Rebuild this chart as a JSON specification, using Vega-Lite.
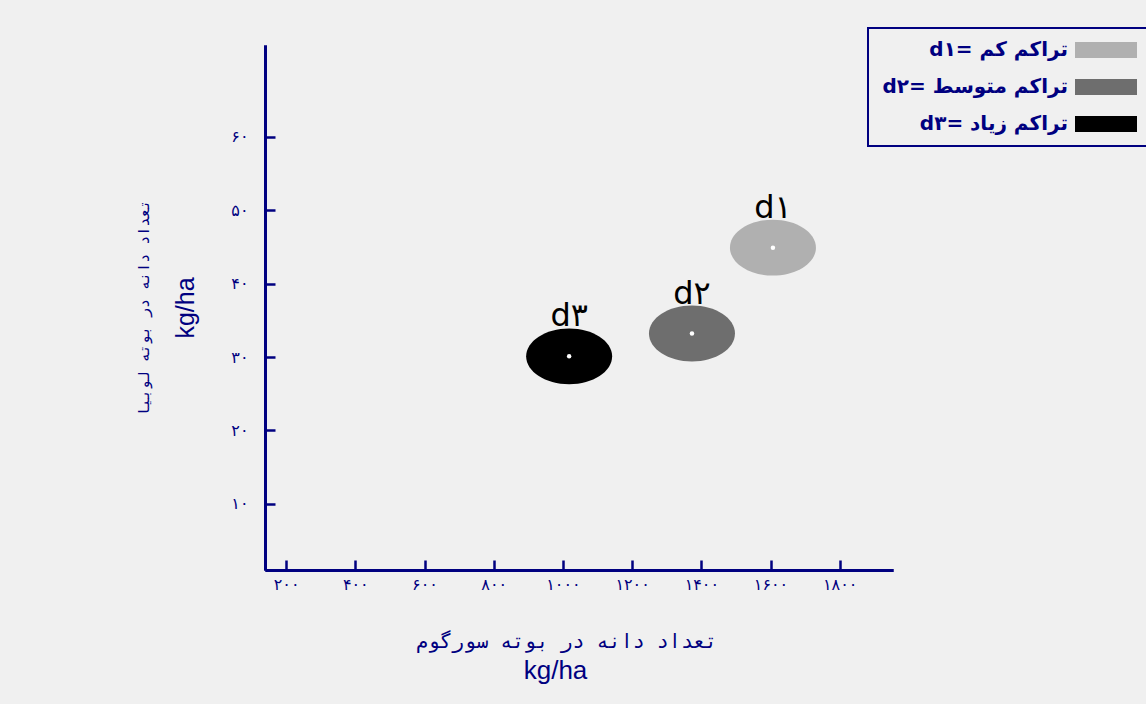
{
  "$schema": "https://vega.github.io/schema/vega-lite/v6.json",
  "autosize": {"type": "none"},
  "padding": {"left": 265, "top": 45, "right": 253, "bottom": 134},
  "width": 628,
  "height": 525,
  "background": "#f0f0f0",
  "config": {"view": {"stroke": null}},
  "data": {"values": [
    {"name": "d۱", "label": "d۱=‎ تراکم کم", "x": 1607, "y": 44.9},
    {"name": "d۲", "label": "d۲=‎ تراکم متوسط", "x": 1373, "y": 33.2},
    {"name": "d۳", "label": "d۳=‎ تراکم زیاد", "x": 1018, "y": 30.1}
  ]},
  "resolve": {"axis": {"x": "independent", "y": "independent"}},
  "layer": [
    {
      "mark": {"type": "point", "filled": true, "opacity": 1, "size": 7396, "shape": "M -1 0 A 1 0.65 0 1 0 1 0 A 1 0.65 0 1 0 -1 0 Z"},
      "encoding": {
        "x": {"field": "x", "type": "quantitative", "scale": {"domain": [139, 1954], "nice": false, "zero": false},
          "axis": {"orient": "bottom", "values": [200, 400, 600, 800, 1000, 1200, 1400, 1600, 1800],
            "labelExpr": "replace(replace(replace(replace(replace(replace(replace(replace(replace(replace(datum.value+'',regexp('0','g'),'۰'),regexp('1','g'),'۱'),regexp('2','g'),'۲'),regexp('3','g'),'۳'),regexp('4','g'),'۴'),regexp('5','g'),'۵'),regexp('6','g'),'۶'),regexp('7','g'),'۷'),regexp('8','g'),'۸'),regexp('9','g'),'۹')",
            "grid": false, "domainColor": "#000080", "domainWidth": 3, "tickColor": "#000080", "tickWidth": 2.5, "tickSize": -10,
            "labelColor": "#000080", "labelFontSize": 16, "labelFont": "DejaVu Sans", "labelPadding": 16,
            "title": "تعداد دانه در بوته سورگوم", "titleColor": "#000080", "titleFontSize": 20, "titleFont": "DejaVu Sans Mono", "titleFontWeight": "normal", "titlePadding": 39, "titleX": 301}},
        "y": {"field": "y", "type": "quantitative", "scale": {"domain": [1, 72.5], "nice": false, "zero": false},
          "axis": {"orient": "left", "values": [10, 20, 30, 40, 50, 60],
            "labelExpr": "replace(replace(replace(replace(replace(replace(replace(replace(replace(replace(datum.value+'',regexp('0','g'),'۰'),regexp('1','g'),'۱'),regexp('2','g'),'۲'),regexp('3','g'),'۳'),regexp('4','g'),'۴'),regexp('5','g'),'۵'),regexp('6','g'),'۶'),regexp('7','g'),'۷'),regexp('8','g'),'۸'),regexp('9','g'),'۹')",
            "grid": false, "domainColor": "#000080", "domainWidth": 3, "tickColor": "#000080", "tickWidth": 2.5, "tickSize": -10,
            "labelColor": "#000080", "labelFontSize": 16, "labelFont": "DejaVu Sans", "labelPadding": 27,
            "title": "kg/ha", "titleColor": "#000080", "titleFontSize": 25, "titleFont": "Liberation Sans", "titleFontWeight": "normal", "titlePadding": 32}},
        "color": {"field": "label", "type": "nominal",
          "scale": {"domain": ["d۱=‎ تراکم کم", "d۲=‎ تراکم متوسط", "d۳=‎ تراکم زیاد"], "range": ["#b0b0b0", "#6e6e6e", "#000000"]},
          "legend": {"orient": "none", "legendX": 603, "legendY": -17, "title": null,
            "strokeColor": "#000080", "padding": 12,
            "labelFontSize": 20, "labelColor": "#000080", "labelFont": "DejaVu Sans", "labelFontWeight": "bold",
            "labelAlign": "right", "labelOffset": 168, "labelLimit": 300,
            "symbolType": "M 18.5 -0.8 H 24.7 V 0.8 H 18.5 Z", "symbolSize": 400, "symbolStrokeWidth": 0, "symbolOpacity": 1,
            "rowPadding": 17,
            "encode": {"legend": {"update": {"strokeWidth": {"value": 2}}}}}}
      }
    },
    {
      "mark": {"type": "point", "filled": true, "opacity": 1, "size": 20, "color": "white", "shape": "circle"},
      "encoding": {
        "x": {"field": "x", "type": "quantitative",
          "axis": {"orient": "bottom", "labels": false, "ticks": false, "grid": false, "domainColor": "#000080", "domainWidth": 3,
            "title": "kg/ha", "titleColor": "#000080", "titleFontSize": 26, "titleFont": "Liberation Sans", "titleFontWeight": "normal", "titlePadding": 87, "titleX": 290}},
        "y": {"field": "y", "type": "quantitative",
          "axis": {"orient": "left", "labels": false, "ticks": false, "grid": false, "domainColor": "#000080", "domainWidth": 3,
            "title": "تعداد دانه در بوته لوبیا", "titleColor": "#000080", "titleFontSize": 15, "titleFont": "DejaVu Sans Mono", "titleFontWeight": "normal", "titlePadding": 114}}
      }
    },
    {
      "mark": {"type": "text", "font": "DejaVu Sans", "fontSize": 32, "color": "black", "baseline": "alphabetic", "dy": -30},
      "encoding": {
        "x": {"field": "x", "type": "quantitative", "axis": null},
        "y": {"field": "y", "type": "quantitative", "axis": null},
        "text": {"field": "name"}
      }
    }
  ]
}
